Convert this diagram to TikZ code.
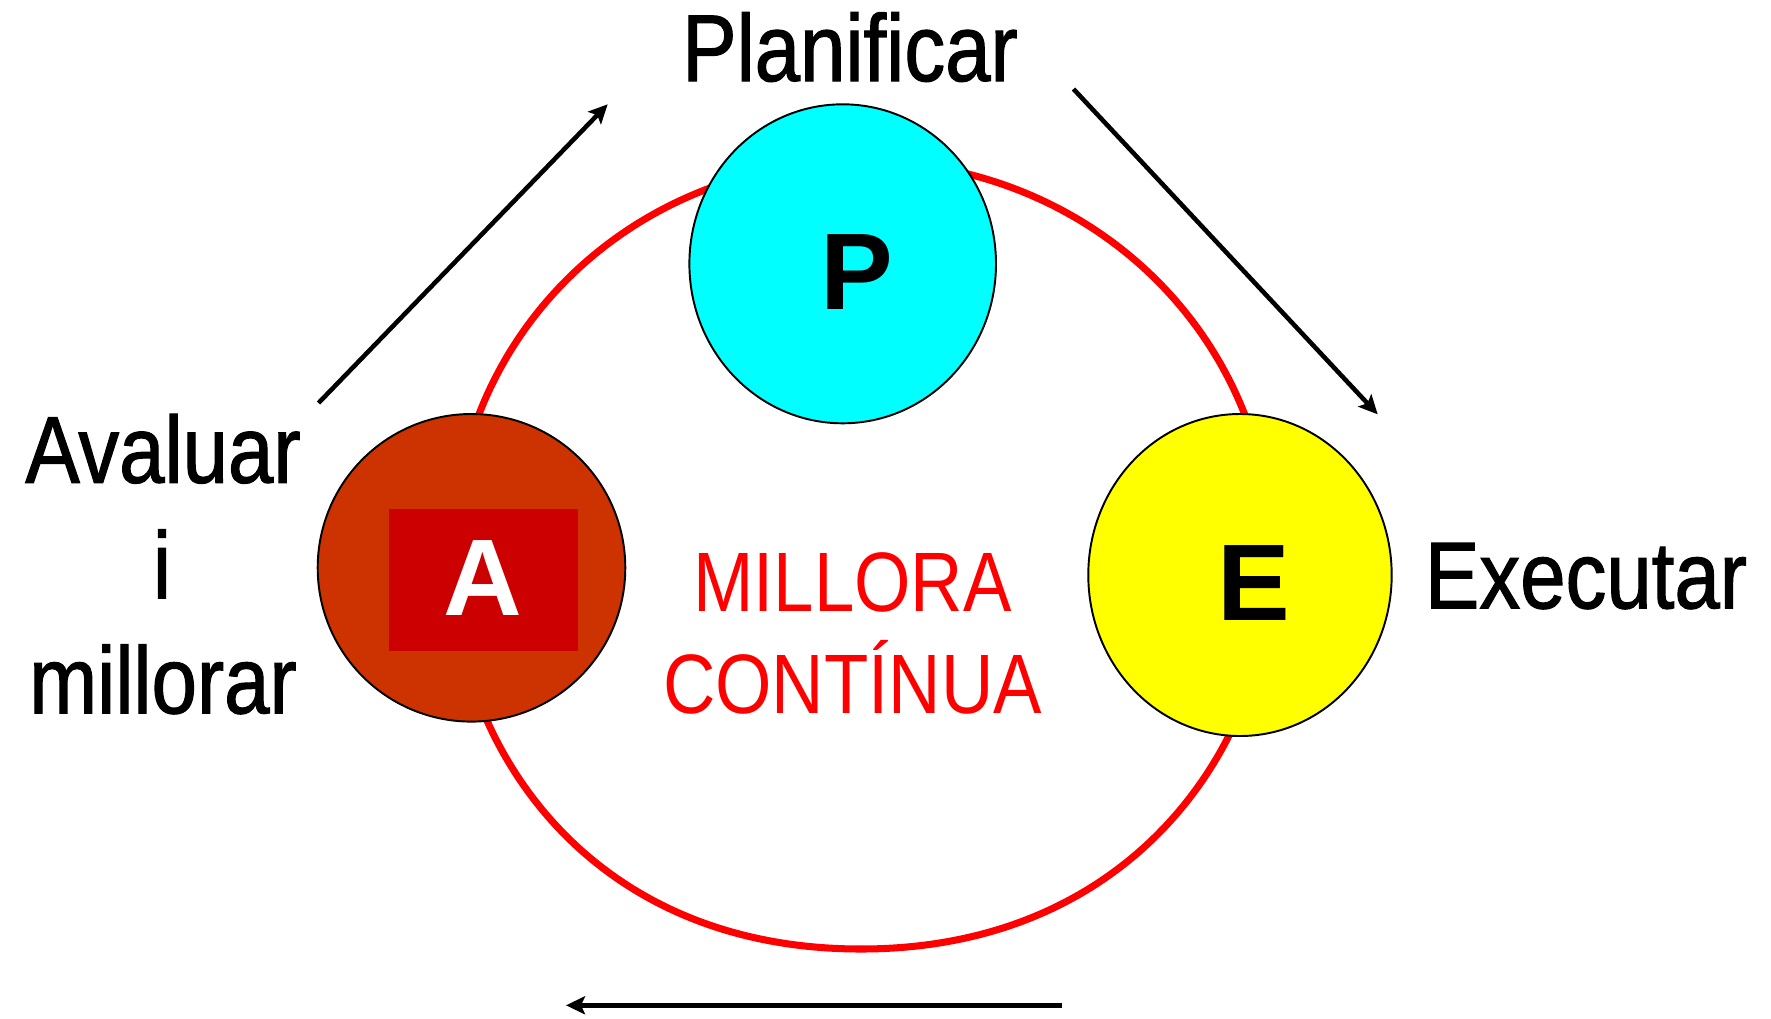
\documentclass[tikz,border=0pt]{standalone}
\usepackage{fontspec}
\setmainfont{Liberation Sans}
\newfontfamily\narrowfont[FakeStretch=0.86,FakeBold=1.2]{Liberation Sans}
\newfontfamily\mottofont[FakeStretch=0.86]{Liberation Sans}
\usetikzlibrary{arrows.meta}

\definecolor{pcyan}{RGB}{0,255,255}
\definecolor{eyellow}{RGB}{255,255,0}
\definecolor{arust}{RGB}{204,51,0}
\definecolor{abox}{RGB}{204,0,0}
\definecolor{ringred}{RGB}{255,0,0}

\tikzset{
  stage/.style={draw=black,line width=0.55pt},
  letter/.style={font=\fontsize{31}{31}\selectfont\bfseries,inner sep=0pt,anchor=base},
  word/.style={font=\narrowfont\fontsize{27}{27}\selectfont,inner sep=0pt,anchor=base},
  motto/.style={font=\mottofont\fontsize{24}{24}\selectfont,text=ringred,inner sep=0pt,anchor=base},
  flow/.style={-{Stealth[length=1.9mm,width=1.8mm,inset=0.4mm]},line width=1.3pt},
}

\begin{document}
\begin{tikzpicture}[x=1cm,y=-1cm]

\useasboundingbox (0,0) rectangle (17.71,10.18);

% red cycle
\draw[ringred,line width=2pt] (8.62,1.61)
  .. controls (10.92,1.61) and (12.72,3.37) .. (12.72,5.6)
  .. controls (12.72,7.35) and (11.40,9.49) .. (8.61,9.49)
  .. controls (5.80,9.49) and (4.52,7.35) .. (4.52,5.6)
  .. controls (4.52,3.37) and (6.29,1.61) .. cycle;

% the three stages
\draw[stage,fill=pcyan] (8.427,2.638) ellipse (1.533 and 1.595);
\draw[stage,fill=eyellow] (12.40,5.75) ellipse (1.517 and 1.61);
\draw[stage,fill=arust] (4.715,5.678) circle (1.538);
\fill[abox] (3.89,5.09) rectangle (5.78,6.507);

\node[letter] (p) at (8.567,3.093) {P};
\node[letter] (e) at (12.537,6.20) {E};
\node[letter,text=white] (a) at (4.833,6.153) {A};

\node[motto] (mil) at (8.525,6.11) {MILLORA};
\node[motto] (con) at (8.525,7.133) {CONTÍNUA};

% labels
\node[word] (plan) at (8.50,0.81) {Planificar};
\node[word] (exec) at (15.86,6.083) {Executar};
\node[word] (av1) at (1.63,4.827) {Avaluar};
\node[word] (av2) at (1.62,5.983) {i};
\node[word] (av3) at (1.63,7.133) {millorar};

% arrows
\coordinate (avtail) at (3.185,4.03);
\coordinate (avhead) at (6.077,1.043);
\coordinate (pltail) at (10.735,0.89);
\coordinate (plhead) at (13.777,4.143);
\coordinate (extail) at (10.62,10.053);
\coordinate (exhead) at (5.66,10.053);

\draw[flow] (avtail) -- (avhead);
\draw[flow] (pltail) -- (plhead);
\draw[flow,line width=1.6pt] (extail) -- (exhead);

\end{tikzpicture}
\end{document}
